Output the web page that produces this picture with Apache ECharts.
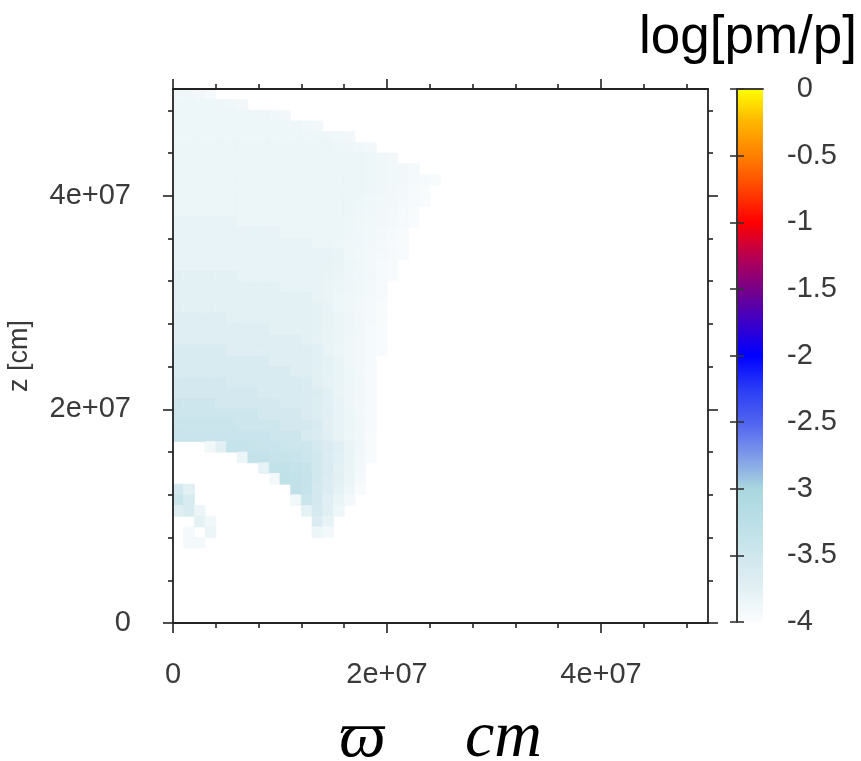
<!DOCTYPE html>
<html>
<head>
<meta charset="utf-8">
<script src="https://cdn.jsdelivr.net/npm/echarts@6/dist/echarts.min.js"></script>
<style>
html,body{margin:0;padding:0;background:#ffffff;}
#chart{width:861px;height:761px;}
</style>
</head>
<body>
<div id="chart"></div>
<script>
// ---- data ----
const cellSize = 1e6; // cm, size of one grid cell
const xCenters = [0.5e6,1.5e6,2.5e6,3.5e6,4.5e6,5.5e6,6.5e6,7.5e6,8.5e6,9.5e6,10.5e6,11.5e6,12.5e6,
                  13.5e6,14.5e6,15.5e6,16.5e6,17.5e6,18.5e6,19.5e6,20.5e6,21.5e6,22.5e6,23.5e6,24.5e6,25.5e6];
const zCenters = [49.5e6,48.5e6,47.5e6,46.5e6,45.5e6,44.5e6,43.5e6,42.5e6,41.5e6,40.5e6,
                  39.5e6,38.5e6,37.5e6,36.5e6,35.5e6,34.5e6,33.5e6,32.5e6,31.5e6,30.5e6,
                  29.5e6,28.5e6,27.5e6,26.5e6,25.5e6,24.5e6,23.5e6,22.5e6,21.5e6,20.5e6,
                  19.5e6,18.5e6,17.5e6,16.5e6,15.5e6,14.5e6,13.5e6,12.5e6,11.5e6,10.5e6,
                  9.5e6,8.5e6,7.5e6,6.5e6,5.5e6,4.5e6,3.5e6,2.5e6,1.5e6,0.5e6];
const _ = null; // below the colour scale (drawn white)
// log[pm/p], one row per zCenters entry, one column per xCenters entry
const logRatio = [
 [-3.88,-3.89,-3.91,-3.94],
 [-3.86,-3.86,-3.86,-3.86,-3.87,-3.89,-3.91],
 [-3.86,-3.86,-3.86,-3.86,-3.86,-3.86,-3.86,-3.86,-3.87,-3.89,-3.91],
 [-3.86,-3.86,-3.86,-3.86,-3.86,-3.86,-3.86,-3.86,-3.86,-3.86,-3.86,-3.87,-3.89,-3.91],
 [-3.86,-3.86,-3.86,-3.86,-3.86,-3.86,-3.86,-3.86,-3.86,-3.86,-3.86,-3.86,-3.86,-3.86,-3.87,-3.89,-3.91],
 [-3.85,-3.85,-3.85,-3.85,-3.85,-3.85,-3.85,-3.85,-3.85,-3.85,-3.85,-3.85,-3.85,-3.85,-3.85,-3.86,-3.87,-3.89,-3.91],
 [-3.85,-3.85,-3.85,-3.85,-3.85,-3.85,-3.85,-3.85,-3.85,-3.85,-3.85,-3.85,-3.85,-3.85,-3.85,-3.85,-3.85,-3.85,-3.86,-3.88,-3.91],
 [-3.85,-3.85,-3.85,-3.85,-3.85,-3.85,-3.85,-3.85,-3.85,-3.85,-3.85,-3.85,-3.85,-3.85,-3.85,-3.85,-3.85,-3.85,-3.86,-3.88,-3.90,-3.91,-3.93],
 [-3.85,-3.85,-3.85,-3.85,-3.85,-3.85,-3.85,-3.85,-3.85,-3.85,-3.85,-3.85,-3.85,-3.85,-3.85,-3.85,-3.85,-3.85,-3.86,-3.88,-3.90,-3.91,-3.93,-3.94,-3.96],
 [-3.85,-3.85,-3.85,-3.85,-3.85,-3.85,-3.85,-3.85,-3.85,-3.85,-3.85,-3.85,-3.85,-3.85,-3.85,-3.85,-3.85,-3.85,-3.87,-3.89,-3.91,-3.92,-3.94,-3.96],
 [-3.85,-3.85,-3.85,-3.85,-3.85,-3.85,-3.85,-3.85,-3.85,-3.85,-3.85,-3.85,-3.85,-3.85,-3.85,-3.85,-3.85,-3.86,-3.88,-3.90,-3.91,-3.93,-3.95,-3.97],
 [-3.85,-3.85,-3.85,-3.85,-3.85,-3.85,-3.85,-3.85,-3.85,-3.85,-3.85,-3.85,-3.85,-3.85,-3.85,-3.85,-3.85,-3.87,-3.89,-3.91,-3.92,-3.94,-3.96],
 [-3.80,-3.80,-3.80,-3.80,-3.80,-3.80,-3.85,-3.85,-3.85,-3.85,-3.85,-3.85,-3.85,-3.85,-3.85,-3.85,-3.86,-3.88,-3.90,-3.91,-3.93,-3.95,-3.97],
 [-3.80,-3.80,-3.80,-3.80,-3.80,-3.80,-3.80,-3.80,-3.80,-3.80,-3.85,-3.85,-3.85,-3.85,-3.85,-3.85,-3.87,-3.89,-3.90,-3.92,-3.94,-3.96],
 [-3.80,-3.80,-3.80,-3.80,-3.80,-3.80,-3.80,-3.80,-3.80,-3.80,-3.80,-3.80,-3.80,-3.85,-3.85,-3.86,-3.88,-3.89,-3.91,-3.93,-3.95,-3.96],
 [-3.80,-3.80,-3.80,-3.80,-3.80,-3.80,-3.80,-3.80,-3.80,-3.80,-3.80,-3.80,-3.80,-3.80,-3.80,-3.82,-3.88,-3.90,-3.92,-3.93,-3.95,-3.97],
 [-3.80,-3.80,-3.80,-3.80,-3.80,-3.80,-3.80,-3.80,-3.80,-3.80,-3.80,-3.80,-3.80,-3.80,-3.81,-3.83,-3.86,-3.88,-3.92,-3.94,-3.96],
 [-3.76,-3.76,-3.76,-3.76,-3.76,-3.76,-3.80,-3.80,-3.80,-3.80,-3.80,-3.80,-3.80,-3.80,-3.82,-3.84,-3.87,-3.89,-3.91,-3.94,-3.97],
 [-3.76,-3.76,-3.76,-3.76,-3.76,-3.76,-3.76,-3.76,-3.76,-3.76,-3.80,-3.80,-3.80,-3.80,-3.83,-3.85,-3.87,-3.90,-3.92,-3.95],
 [-3.76,-3.76,-3.76,-3.76,-3.76,-3.76,-3.76,-3.76,-3.76,-3.76,-3.76,-3.76,-3.76,-3.81,-3.83,-3.86,-3.88,-3.90,-3.93,-3.95],
 [-3.76,-3.76,-3.76,-3.76,-3.76,-3.76,-3.76,-3.76,-3.76,-3.76,-3.76,-3.76,-3.76,-3.77,-3.80,-3.86,-3.88,-3.91,-3.93,-3.96],
 [-3.70,-3.70,-3.70,-3.70,-3.70,-3.76,-3.76,-3.76,-3.76,-3.76,-3.76,-3.76,-3.76,-3.78,-3.81,-3.84,-3.87,-3.91,-3.93,-3.96],
 [-3.70,-3.70,-3.70,-3.70,-3.70,-3.70,-3.70,-3.70,-3.70,-3.76,-3.76,-3.76,-3.76,-3.78,-3.81,-3.84,-3.87,-3.90,-3.94,-3.97],
 [-3.70,-3.70,-3.70,-3.70,-3.70,-3.70,-3.70,-3.70,-3.70,-3.70,-3.70,-3.70,-3.76,-3.79,-3.82,-3.84,-3.88,-3.91,-3.94,-3.97],
 [-3.62,-3.62,-3.62,-3.62,-3.62,-3.70,-3.70,-3.70,-3.70,-3.70,-3.70,-3.70,-3.70,-3.74,-3.82,-3.85,-3.88,-3.91,-3.94,-3.97],
 [-3.62,-3.62,-3.62,-3.62,-3.62,-3.62,-3.62,-3.62,-3.62,-3.70,-3.70,-3.70,-3.70,-3.74,-3.78,-3.82,-3.88,-3.91,-3.94],
 [-3.62,-3.62,-3.62,-3.62,-3.62,-3.62,-3.62,-3.62,-3.62,-3.62,-3.62,-3.70,-3.70,-3.75,-3.78,-3.82,-3.86,-3.92,-3.95],
 [-3.55,-3.55,-3.55,-3.55,-3.55,-3.62,-3.62,-3.62,-3.62,-3.62,-3.62,-3.62,-3.63,-3.75,-3.79,-3.82,-3.86,-3.90,-3.95],
 [-3.55,-3.55,-3.55,-3.55,-3.55,-3.55,-3.55,-3.55,-3.62,-3.62,-3.62,-3.62,-3.64,-3.67,-3.74,-3.83,-3.87,-3.91,-3.95],
 [-3.48,-3.48,-3.48,-3.48,-3.55,-3.55,-3.55,-3.55,-3.55,-3.55,-3.62,-3.62,-3.64,-3.69,-3.74,-3.80,-3.87,-3.91,-3.95],
 [-3.47,-3.47,-3.47,-3.47,-3.47,-3.47,-3.47,-3.47,-3.55,-3.55,-3.55,-3.55,-3.64,-3.69,-3.74,-3.80,-3.85,-3.92,-3.95],
 [-3.43,-3.43,-3.43,-3.43,-3.43,-3.43,-3.48,-3.48,-3.48,-3.48,-3.55,-3.55,-3.56,-3.62,-3.75,-3.80,-3.85,-3.90,-3.95],
 [-3.42,-3.42,-3.42,-3.42,-3.42,-3.42,-3.42,-3.42,-3.42,-3.48,-3.48,-3.48,-3.59,-3.65,-3.71,-3.81,-3.86,-3.90,-3.96],
 [_,_,_,-3.90,-3.75,-3.37,-3.37,-3.40,-3.42,-3.42,-3.46,-3.48,-3.48,-3.57,-3.65,-3.73,-3.83,-3.89,-3.96],
 [_,_,_,_,_,_,-3.85,-3.35,-3.35,-3.38,-3.40,-3.42,-3.46,-3.52,-3.66,-3.74,-3.82,-3.91,-3.97],
 [_,_,_,_,_,_,_,_,-3.80,-3.33,-3.33,-3.36,-3.40,-3.54,-3.63,-3.76,-3.83,-3.91],
 [_,_,_,_,_,_,_,_,_,-3.92,-3.32,-3.33,-3.38,-3.52,-3.66,-3.75,-3.84,-3.93],
 [-3.55,-3.75,_,_,_,_,_,_,_,_,_,-3.32,-3.37,-3.56,-3.66,-3.78,-3.87,-3.96],
 [-3.45,-3.60,_,_,_,_,_,_,_,_,_,-3.90,-3.44,-3.55,-3.72,-3.82,-3.92],
 [-3.70,-3.60,-3.85,_,_,_,_,_,_,_,_,_,-3.78,-3.58,-3.72,-3.86],
 [_,_,-3.78,-3.90,_,_,_,_,_,_,_,_,_,-3.65,-3.80],
 [_,-3.93,_,-3.85,_,_,_,_,_,_,_,_,_,-3.85,-3.92],
 [_,-3.93,-3.93],
 [],
 [],
 [],
 [],
 [],
 [],
 []
];
const axisMajorTicks = [0, 2e7, 4e7];
const axisMinorTicks = [4e6, 8e6, 1.2e7, 1.6e7, 2.4e7, 2.8e7, 3.2e7, 3.6e7, 4.4e7, 4.8e7];
const axisTickLabels = ['0', '2e+07', '4e+07'];
const cbTicks = [-4, -3.5, -3, -2.5, -2, -1.5, -1, -0.5, 0];
const cbTickLabels = ['-4', '-3.5', '-3', '-2.5', '-2', '-1.5', '-1', '-0.5', '0'];
// colour map from -4 (first) to 0 (last), equally spaced
const cbColors = ['#fbfdfe','#e2f0f4','#cfe7ee','#bcdfe7','#a9d7df','#7d9ae8','#4f63f0','#2a3cf6',
                  '#0000ff','#3c00c8','#780088','#b80050','#ff0000','#ff4400','#ff8000','#ffb400','#ffff00'];
const titleText = 'log[pm/p]';
const xName = 'ϖ    \u2009cm';
const yName = 'z [cm]';

// ---- build series data ----
const cells = [];
logRatio.forEach((row, k) => {
  row.forEach((v, i) => {
    if (v !== null) cells.push([xCenters[i], zCenters[k], v]);
  });
});

const chart = echarts.init(document.getElementById('chart'), null, {renderer: 'canvas'});
const axisColor = '#222';
const labelFont = {fontSize: 29, color: '#3a3a3a', fontFamily: 'Liberation Sans, Arial, sans-serif'};
const fmtAxis = v => { const k = axisMajorTicks.indexOf(v); return k >= 0 ? axisTickLabels[k] : ''; };
const fmtCb = v => {
  const k = cbTicks.indexOf(v);
  if (k < 0) return '';
  const s = cbTickLabels[k];
  return s.charAt(0) === '-' ? s : '{pad|-}' + s;
};

function mainAxis(pos, major, withLabel, extra) {
  return Object.assign({
    type: 'value', gridIndex: 0, position: pos, min: 0, max: 5e7, z: 10,
    splitLine: {show: false},
    axisLine: {show: major, onZero: false, lineStyle: {color: axisColor, width: 1.8}},
    axisTick: {show: true, inside: false, length: major ? 10 : 5,
               customValues: major ? axisMajorTicks : axisMinorTicks,
               lineStyle: {color: axisColor, width: 1.6}},
    axisLabel: withLabel ? Object.assign({show: true, customValues: axisMajorTicks, formatter: fmtAxis,
                                          margin: (pos === 'left' ? 42 : 37)}, labelFont)
                         : {show: false}
  }, extra || {});
}

const option = {
  backgroundColor: '#ffffff',
  animation: false,
  title: {
    text: titleText, right: 4, top: 12, padding: 0,
    textStyle: {fontSize: 53, fontWeight: 'normal', color: '#000', fontFamily: 'Liberation Sans, Arial, sans-serif'}
  },
  grid: [
    {left: 173, top: 89, width: 535, height: 534, containLabel: false, outerBoundsMode: 'none'},
    {left: 737, top: 89, width: 26, height: 533, containLabel: false, outerBoundsMode: 'none'}
  ],
  xAxis: [
    mainAxis('bottom', true, true, {
      name: xName, nameLocation: 'middle', nameGap: 83,
      nameTextStyle: {fontSize: 66, fontStyle: 'italic', color: '#000',
                      fontFamily: 'Liberation Serif, DejaVu Serif, serif'}
    }),
    mainAxis('bottom', false, false),
    mainAxis('top', true, false),
    mainAxis('top', false, false),
    {type: 'value', gridIndex: 1, position: 'bottom', min: 0, max: 1, z: 10,
     axisLine: {show: true, lineStyle: {color: '#333', width: 1.6}}, axisTick: {show: false},
     axisLabel: {show: false}, splitLine: {show: false}},
    {type: 'value', gridIndex: 1, position: 'top', min: 0, max: 1, z: 10,
     axisLine: {show: true, lineStyle: {color: '#333', width: 1.6}}, axisTick: {show: false},
     axisLabel: {show: false}, splitLine: {show: false}}
  ],
  yAxis: [
    mainAxis('left', true, true, {
      name: yName, nameLocation: 'middle', nameGap: 140, nameRotate: 90,
      nameTextStyle: {fontSize: 27, color: '#3a3a3a', fontFamily: 'Liberation Sans, Arial, sans-serif'}
    }),
    mainAxis('left', false, false),
    mainAxis('right', true, false),
    mainAxis('right', false, false),
    {type: 'value', gridIndex: 1, position: 'left', min: -4, max: 0, z: 10,
     axisLine: {show: true, lineStyle: {color: '#333', width: 1.6}},
     axisTick: {show: true, inside: false, length: 7, customValues: cbTicks, lineStyle: {color: '#333', width: 1.6}},
     axisLabel: {show: false}, splitLine: {show: false}},
    {type: 'value', gridIndex: 1, position: 'right', min: -4, max: 0, z: 10,
     axisLine: {show: true, lineStyle: {color: '#333', width: 1.6}},
     axisTick: {show: true, inside: false, length: 7, customValues: cbTicks, lineStyle: {color: '#333', width: 1.6}},
     axisLabel: Object.assign({show: true, customValues: cbTicks, formatter: fmtCb, margin: 24, align: 'left',
                               rich: {pad: {fontSize: 29, color: 'rgba(0,0,0,0)', fontFamily: 'Liberation Sans, Arial, sans-serif'}}},
                              labelFont),
     splitLine: {show: false}}
  ],
  visualMap: {
    type: 'continuous', min: -4, max: 0, dimension: 2, seriesIndex: 0,
    calculable: false, realtime: false, hoverLink: false,
    orient: 'vertical', left: 737, top: 89, itemWidth: 26, itemHeight: 533,
    padding: 0, text: null, showLabel: false,
    inRange: {color: cbColors},
    outOfRange: {color: ['#ffffff']}
  },
  series: [{
    type: 'custom', xAxisIndex: 0, yAxisIndex: 0, clip: true,
    data: cells,
    encode: {x: 0, y: 1},
    renderItem: function (params, api) {
      const p = api.coord([api.value(0) - cellSize / 2, api.value(1) + cellSize / 2]);
      const s = api.size([cellSize, cellSize]);
      const c = api.visual('color');
      return {type: 'rect', shape: {x: p[0], y: p[1], width: s[0], height: s[1]},
              style: {fill: c, stroke: c, lineWidth: 0.8}};
    }
  }]
};
chart.setOption(option);
</script>
</body>
</html>
